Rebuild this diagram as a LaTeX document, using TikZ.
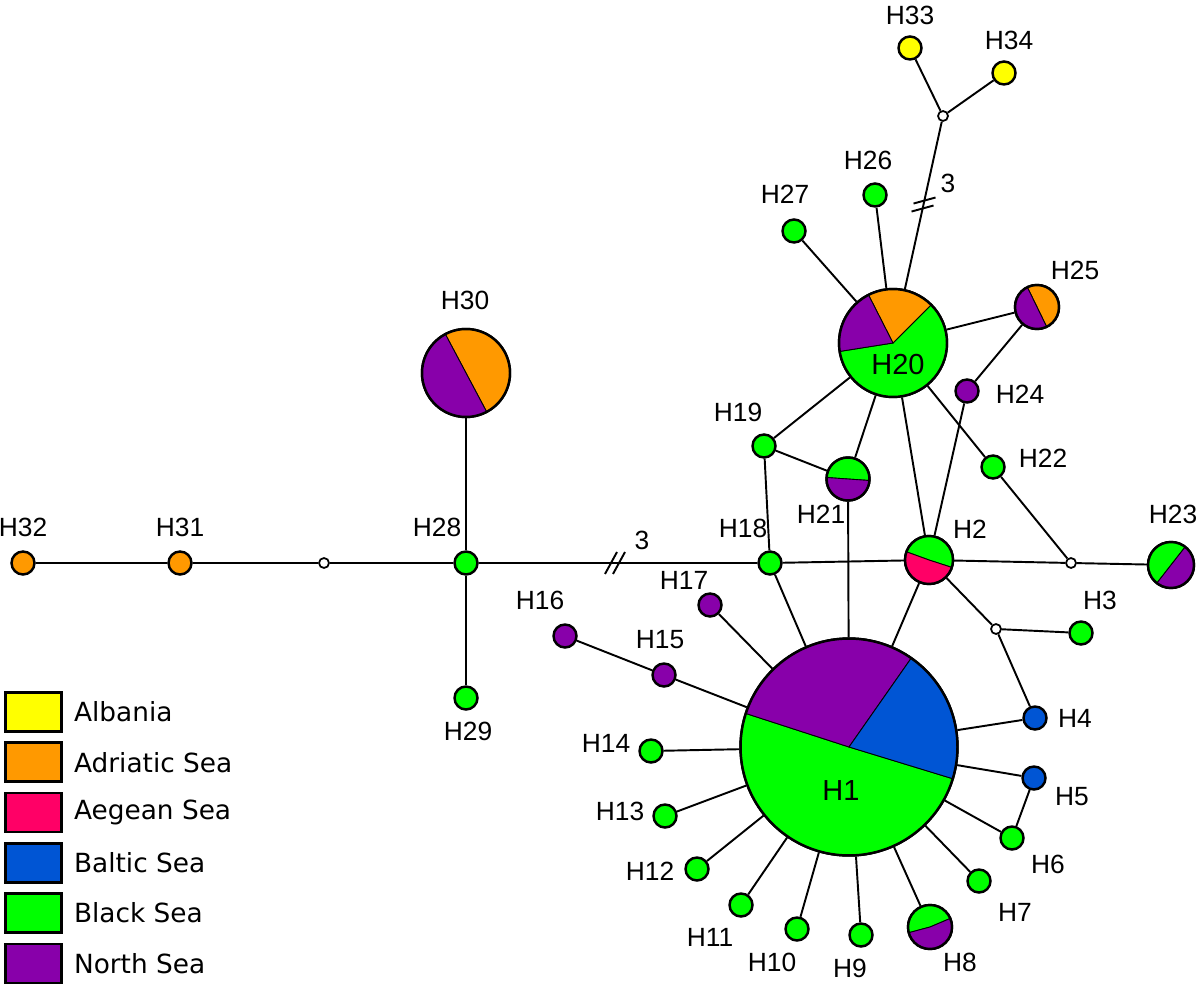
\documentclass[tikz,border=0pt]{standalone}
\usepackage{fontspec}
\setmainfont{Liberation Sans}
\newfontfamily\legfont{DejaVu Sans}
\usetikzlibrary{positioning,calc}

\definecolor{alb}{HTML}{FFFF00}
\definecolor{adr}{HTML}{FF9900}
\definecolor{aeg}{HTML}{FF0066}
\definecolor{bal}{HTML}{0055D4}
\definecolor{bla}{HTML}{00FF00}
\definecolor{nor}{HTML}{8800AA}

\tikzset{
  hap/.style={circle, draw, line width=1.4pt, inner sep=0pt, minimum size=0.46cm},
  mv/.style={circle, draw, fill=white, line width=1pt, inner sep=0pt, minimum size=0.2cm},
  lab/.style={font=\fontsize{15}{15}\selectfont, inner sep=0pt},
  inlab/.style={font=\fontsize{16.5}{16.5}\selectfont, inner sep=0pt},
  link/.style={line width=1.1pt},
  legbox/.style={draw, line width=1.4pt, minimum width=1.12cm, minimum height=0.78cm, inner sep=0pt},
  legtext/.style={font=\legfont\fontsize{15}{15}\selectfont, inner sep=0pt, anchor=west}
}
\newcommand{\slice}[5]{%
  \filldraw[fill=#5, line width=0.5pt] (#1.center) -- ++(#3:#2) arc[start angle=#3, end angle=#4, radius=#2] -- cycle;}

\begin{document}
\begin{tikzpicture}[x=0.02cm, y=-0.02cm]
\useasboundingbox (0,0) rectangle (1200,986);

% haplotypes
\node[hap, fill=alb] (H33) at (910,48) {};
\node[hap, fill=alb] (H34) at (1004,73) {};
\node[mv] (mv1) at (943,116) {};
\node[hap, fill=bla] (H26) at (875,195) {};
\node[hap, fill=bla] (H27) at (794,231) {};
\node[hap, minimum size=2.16cm] (H20) at (893,343) {};
\node[hap, minimum size=0.88cm] (H25) at (1037,307) {};
\node[hap, fill=nor] (H24) at (967,391) {};
\node[hap, minimum size=1.76cm] (H30) at (466,373) {};
\node[hap, fill=bla] (H19) at (764,446) {};
\node[hap, fill=bla] (H22) at (993,467) {};
\node[hap, minimum size=0.86cm] (H21) at (848,479) {};
\node[hap, fill=adr] (H32) at (23,563) {};
\node[hap, fill=adr] (H31) at (180,563) {};
\node[mv] (mv3) at (324,563) {};
\node[hap, fill=bla] (H28) at (466,563) {};
\node[hap, fill=bla] (H18) at (770,563) {};
\node[hap, minimum size=0.96cm] (H2) at (929,560) {};
\node[mv] (mv2) at (1071,563) {};
\node[hap, minimum size=0.92cm] (H23) at (1171,565) {};
\node[hap, fill=bla] (H29) at (466,698) {};
\node[hap, fill=nor] (H17) at (710,605) {};
\node[hap, fill=nor] (H16) at (565,636) {};
\node[hap, fill=nor] (H15) at (664,675) {};
\node[mv] (mv4) at (996,629) {};
\node[hap, fill=bla] (H3) at (1081,633) {};
\node[hap, minimum size=4.34cm] (H1) at (849,747) {};
\node[hap, fill=bal] (H4) at (1035,718) {};
\node[hap, fill=bal] (H5) at (1034,778) {};
\node[hap, fill=bla] (H6) at (1012,838) {};
\node[hap, fill=bla] (H7) at (979,881) {};
\node[hap, minimum size=0.88cm] (H8) at (930,927) {};
\node[hap, fill=bla] (H9) at (861,935) {};
\node[hap, fill=bla] (H10) at (797,929) {};
\node[hap, fill=bla] (H11) at (741,905) {};
\node[hap, fill=bla] (H12) at (697,869) {};
\node[hap, fill=bla] (H13) at (665,816) {};
\node[hap, fill=bla] (H14) at (651,751) {};

% links
\draw[link] (H33) -- (mv1) -- (H34);
\draw[link] (H20) -- (mv1);
\draw[link] (H26) -- (H20) -- (H27);
\draw[link] (H20) -- (H25) -- (H24) -- (H2);
\draw[link] (H20) -- (H19) -- (H21) -- (H20);
\draw[link] (H20) -- (H2);
\draw[link] (H20) -- (H22) -- (mv2);
\draw[link] (H19) -- (H18);
\draw[link] (H21) -- (H1);
\draw[link] (H32) -- (H31) -- (mv3) -- (H28) -- (H18) -- (H2) -- (mv2) -- (H23);
\draw[link] (H30) -- (H28) -- (H29);
\draw[link] (H18) -- (H1) -- (H2) -- (mv4) -- (H3);
\draw[link] (mv4) -- (H4);
\draw[link] (H16) -- (H15) -- (H1) -- (H17);
\foreach \n in {4,...,14}
  \draw[link] (H1) -- (H\n);
\draw[link] (H5) -- (H6);

% 3 mutational steps
\coordinate (cutA) at (615,563);
\draw[link] ([shift={(-10,11)}]cutA) -- ([shift={(2,-11)}]cutA);
\draw[link] ([shift={(-2,11)}]cutA) -- ([shift={(10,-11)}]cutA);
\node[lab] (stepA) at (642,540) {3};
\coordinate (cutB) at ($(H20)!0.61!(mv1)$);
\draw[link] ([shift={(-10,-1)}]cutB) -- ([shift={(12,-7)}]cutB);
\draw[link] ([shift={(-12,7)}]cutB) -- ([shift={(10,1)}]cutB);
\node[lab] (stepB) at (948,183) {3};

% pies
\foreach \nd/\r/\a/\b/\c in {H1/2.17cm/162/343/bla, H1/2.17cm/55/162/nor, H1/2.17cm/-17/55/bal,
    H20/1.08cm/-171/45/bla, H20/1.08cm/45/117/adr, H20/1.08cm/117/189/nor,
    H30/0.88cm/-62/118/adr, H30/0.88cm/118/298/nor,
    H2/0.48cm/-18/160/bla, H2/0.48cm/160/342/aeg,
    H21/0.43cm/-4/176/bla, H21/0.43cm/176/356/nor,
    H25/0.44cm/-64/116/adr, H25/0.44cm/116/296/nor,
    H8/0.44cm/23/195/bla, H8/0.44cm/195/383/nor,
    H23/0.46cm/52/232/bla, H23/0.46cm/232/412/nor}
  \slice{\nd}{\r}{\a}{\b}{\c};
\foreach \nd/\r in {H1/2.17cm, H20/1.08cm, H30/0.88cm, H2/0.48cm, H21/0.43cm, H25/0.44cm, H8/0.44cm, H23/0.46cm}
  \draw[line width=1.4pt] (\nd.center) circle[radius=\r];

% labels
\node[inlab] (tH1) at (841,791) {H1};
\node[inlab] (tH20) at (898,365) {H20};
\node[lab] (tH33) at (910,15) {H33};
\node[lab] (tH34) at (1009,40) {H34};
\node[lab] (tH26) at (868,160) {H26};
\node[lab] (tH27) at (785,194) {H27};
\node[lab] (tH25) at (1075,270) {H25};
\node[lab] (tH30) at (465,300) {H30};
\node[lab] (tH24) at (1020,394) {H24};
\node[lab] (tH19) at (738,412) {H19};
\node[lab] (tH22) at (1043,458) {H22};
\node[lab] (tH21) at (821,514) {H21};
\node[lab] (tH18) at (743,528) {H18};
\node[lab] (tH2) at (970,529) {H2};
\node[lab] (tH23) at (1173,514) {H23};
\node[lab] (tH32) at (23,527) {H32};
\node[lab] (tH31) at (180,527) {H31};
\node[lab] (tH28) at (437,527) {H28};
\node[lab] (tH17) at (684,580) {H17};
\node[lab] (tH16) at (540,600) {H16};
\node[lab] (tH15) at (660,640) {H15};
\node[lab] (tH3) at (1100,600) {H3};
\node[lab] (tH29) at (468,731) {H29};
\node[lab] (tH14) at (606,743) {H14};
\node[lab] (tH4) at (1075,718) {H4};
\node[lab] (tH13) at (620,811) {H13};
\node[lab] (tH5) at (1072,797) {H5};
\node[lab] (tH12) at (650,871) {H12};
\node[lab] (tH6) at (1048,864) {H6};
\node[lab] (tH11) at (710,937) {H11};
\node[lab] (tH7) at (1015,912) {H7};
\node[lab] (tH10) at (772,962) {H10};
\node[lab] (tH9) at (850,968) {H9};
\node[lab] (tH8) at (960,962) {H8};

% legend
\foreach \c/\t [count=\i] in {alb/Albania, adr/Adriatic Sea, aeg/Aegean Sea, bal/Baltic Sea, bla/Black Sea, nor/North Sea} {
  \node[legbox, fill=\c] (key\i) at (33.5,{661.6+50.3*\i}) {};
  \node[legtext, right=0.22cm of key\i] (keytext\i) {\t};
}
\end{tikzpicture}
\end{document}
